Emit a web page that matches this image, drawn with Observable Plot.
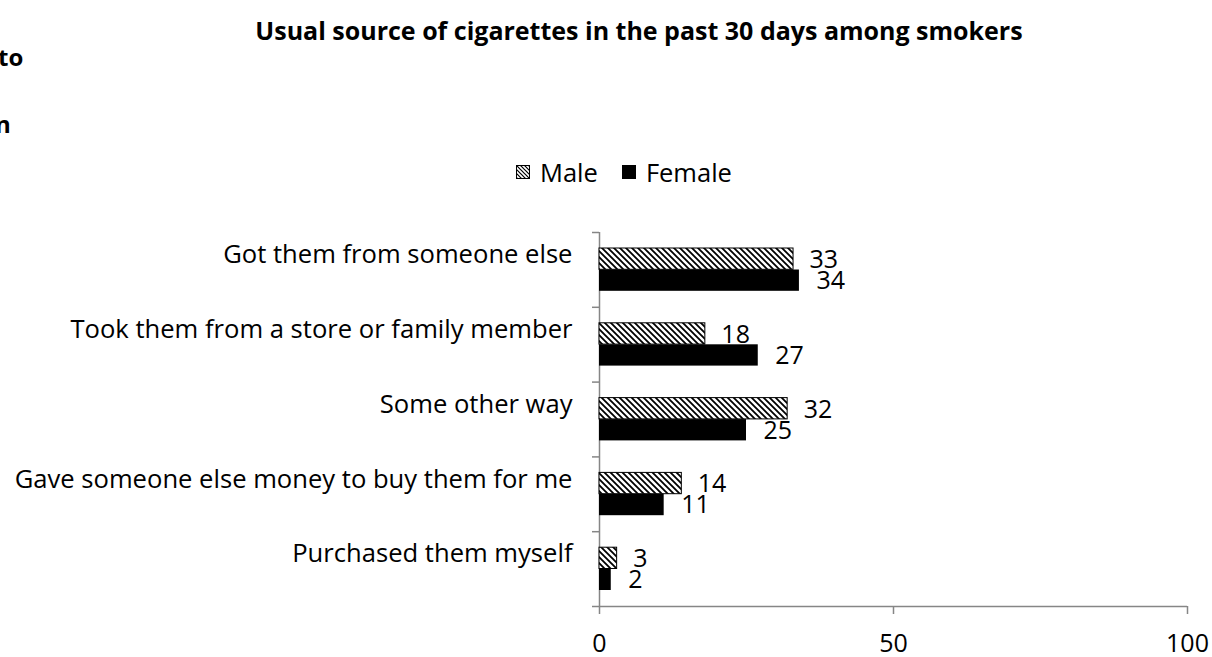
<!DOCTYPE html>
<html>
<head>
<meta charset="utf-8">
<script src="https://cdn.jsdelivr.net/npm/d3@7"></script>
<script src="https://cdn.jsdelivr.net/npm/@observablehq/plot@0.6"></script>
<style>
  html, body { margin: 0; padding: 0; background: #fff; }
  #wrap { position: relative; width: 1212px; height: 657px; overflow: hidden; font-family: "Open Sans", Lato, sans-serif; color: #000; }
  .abs { position: absolute; white-space: nowrap; line-height: 1; }
  #title { left: 0; width: 1278px; top: 18px; text-align: center; font-weight: bold; font-size: 25px; }
  .side { font-weight: bold; font-size: 24px; }
  #legend { top: 157px; left: 516px; font-size: 25.5px; display: flex; align-items: center; line-height: 30px; }
  .sw { display: inline-block; width: 14px; height: 14px; border: 1px solid #000; margin-right: 10px; box-sizing: border-box; }
</style>
</head>
<body>
<div id="wrap">
  <div id="title" class="abs">Usual source of cigarettes in the past 30 days among smokers</div>
  <div class="abs side" style="left:-2px; top:45px;">to</div>
  <div class="abs side" style="left:-5px; top:112px;">n</div>
  <div id="legend" class="abs"></div>
</div>
<script>
const categories = [
  "Got them from someone else",
  "Took them from a store or family member",
  "Some other way",
  "Gave someone else money to buy them for me",
  "Purchased them myself"
];
const male = [33, 18, 32, 14, 3];
const female = [34, 27, 25, 11, 2];
const series = ["Male", "Female"];
const xTicks = [0, 50, 100];

const rows = categories.map((c, i) => ({category: c, i, male: male[i], female: female[i]}));
const bounds = d3.range(categories.length + 1);

const FONT = 25;
const CAT_FONT = 25.6;
const AXIS = "#868686";

const plot = Plot.plot({
  width: 1212,
  height: 657,
  marginLeft: 599,
  marginRight: 25,
  marginTop: 232,
  marginBottom: 51,
  style: {fontFamily: "'Open Sans', Lato, sans-serif", fontSize: FONT + "px", color: "#000", background: "#fff"},
  x: {domain: [0, 100], ticks: xTicks, tickSize: 0, label: null},
  y: {domain: [0, categories.length], reverse: true, axis: null},
  marks: [
    // x tick marks
    Plot.ruleX(xTicks, {x: d => d, y1: categories.length, y2: categories.length, stroke: AXIS, strokeWidth: 1.5, insetBottom: -8}),
    Plot.axisX({ticks: xTicks, tickSize: 0, tickPadding: 28, fontSize: FONT, stroke: AXIS, fill: "#000"}),
    // y axis line
    Plot.ruleX([0], {y1: 0, y2: categories.length, stroke: AXIS, strokeWidth: 1.5}),
    // x axis line
    Plot.ruleY([categories.length], {x1: 0, x2: 100, stroke: AXIS, strokeWidth: 1.5}),
    // y boundary ticks
    Plot.ruleY(bounds, {y: d => d, x1: 0, x2: 0, stroke: AXIS, strokeWidth: 1.5, insetLeft: -7}),
    // category labels
    Plot.text(rows, {x: 0, y: d => d.i + 0.5, text: "category", textAnchor: "end", dx: -27, dy: -15, fontSize: CAT_FONT, fill: "#000"}),
    // male bars + labels
    Plot.rectX(rows, {x1: 0, x2: "male", y1: "i", y2: d => d.i + 1, insetTop: 16, insetBottom: 37.5, fill: "url(#hatch)", stroke: "#000", strokeWidth: 1}),
    Plot.text(rows, {x: "male", y: d => d.i + 0.5, text: "male", textAnchor: "start", dx: 16, dy: -10, fontSize: FONT, fill: "#000"}),
    // female bars + labels
    Plot.rectX(rows, {x1: 0, x2: "female", y1: "i", y2: d => d.i + 1, insetTop: 37.5, insetBottom: 16, fill: "#000"}),
    Plot.text(rows, {x: "female", y: d => d.i + 0.5, text: "female", textAnchor: "start", dx: 17, dy: 11, fontSize: FONT, fill: "#000"})
  ]
});

// hatch pattern
const svg = d3.select(plot);
const defs = svg.insert("defs", ":first-child");
const pat = defs.append("pattern").attr("id", "hatch").attr("patternUnits", "userSpaceOnUse")
  .attr("width", 6).attr("height", 6);
pat.append("rect").attr("width", 6).attr("height", 6).attr("fill", "#fff");
pat.append("path").attr("d", "M-1,-1 L7,7 M-4,2 L1,7 M5,-1 L7,1").attr("stroke", "#000").attr("stroke-width", 1.8);

plot.style.position = "absolute";
plot.style.left = "0px";
plot.style.top = "0px";
const wrap = document.getElementById("wrap");
wrap.insertBefore(plot, wrap.firstChild);

// legend
const legend = document.getElementById("legend");
series.forEach((s, k) => {
  const item = document.createElement("span");
  item.style.display = "inline-flex";
  item.style.alignItems = "center";
  item.style.marginRight = "24px";
  const sw = document.createElement("span");
  sw.className = "sw";
  if (k === 0) {
    sw.innerHTML = '<svg width="12" height="12" style="display:block"><defs><pattern id="hatch2" patternUnits="userSpaceOnUse" width="4" height="4"><rect width="4" height="4" fill="#fff"/><path d="M-1,-1 L5,5 M-3,1 L1,5 M3,-1 L5,1" stroke="#000" stroke-width="1.2"/></pattern></defs><rect width="12" height="12" fill="url(#hatch2)"/></svg>';
  } else {
    sw.style.background = "#000";
  }
  item.appendChild(sw);
  item.appendChild(document.createTextNode(s));
  legend.appendChild(item);
});
</script>
</body>
</html>
